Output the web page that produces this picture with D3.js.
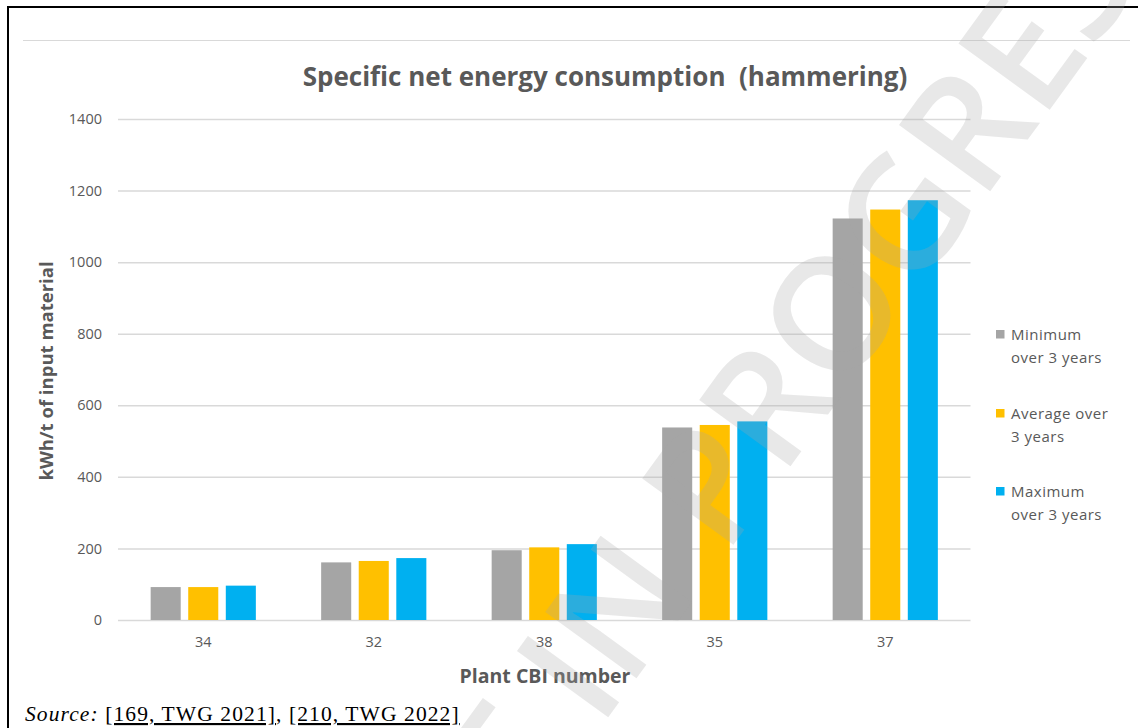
<!DOCTYPE html>
<html><head><meta charset="utf-8">
<script src="https://cdn.jsdelivr.net/npm/d3@7"></script>
<style>body{margin:0;background:#fff}svg{display:block}</style>
</head><body>
<svg id="c" width="1138" height="728"></svg>
<script>
const categories = ["34", "32", "38", "35", "37"];
const seriesNames = ["Minimum over 3 years", "Average over 3 years", "Maximum over 3 years"];
const legendLines = [["Minimum", "over 3 years"], ["Average over", "3 years"], ["Maximum", "over 3 years"]];
const minimumValues = [92, 161, 195, 538, 1122];
const averageValues = [92, 165, 203, 545, 1147];
const maximumValues = [96, 173, 212, 555, 1173];
const yTicks = [0, 200, 400, 600, 800, 1000, 1200, 1400];
const colors = ["#A5A5A5", "#FFC000", "#00B0F0"];
const titleText = "Specific net energy consumption  (hammering)";
const yTitle = "kWh/t of input material";
const xTitle = "Plant CBI number";
const watermark = "DRAFT IN PROGRESS";

const series = [minimumValues, averageValues, maximumValues];
const svg = d3.select("#c");
const font = "'Open Sans', sans-serif";

// frame
svg.append("line").attr("x1", 8).attr("x2", 1138).attr("y1", 7).attr("y2", 7).attr("stroke", "#000").attr("stroke-width", 2);
svg.append("line").attr("x1", 8).attr("x2", 8).attr("y1", 6).attr("y2", 728).attr("stroke", "#000").attr("stroke-width", 2);
svg.append("line").attr("x1", 23).attr("x2", 1130).attr("y1", 40.5).attr("y2", 40.5).attr("stroke", "#d9d9d9").attr("stroke-width", 1);

const pLeft = 118, pRight = 970.5, pTop = 119, pBottom = 620;
const y = d3.scaleLinear().domain([0, 1400]).range([pBottom, pTop]);
const x0 = d3.scaleBand().domain(categories).range([pLeft, pRight]).paddingInner(0.383).paddingOuter(0.1915);
const x1 = d3.scaleBand().domain(d3.range(3)).range([0, x0.bandwidth()]).paddingInner(0.2).paddingOuter(0);

// gridlines
const yAxis = d3.axisLeft(y).tickValues(yTicks).tickSize(-(pRight - pLeft)).tickPadding(16).tickFormat(d3.format("d"));
const gy = svg.append("g").attr("transform", `translate(${pLeft},0)`).call(yAxis);
gy.select(".domain").remove();
gy.selectAll(".tick line").attr("stroke", "#d9d9d9").attr("stroke-width", 1.5);
gy.selectAll(".tick text").attr("fill", "#595959").attr("font-family", font).attr("font-size", 14.5);

// bars
const groups = svg.append("g").selectAll("g").data(categories).join("g")
  .attr("transform", d => `translate(${x0(d)},0)`);
groups.selectAll("rect").data((d, i) => series.map((s, k) => ({k, v: s[i]}))).join("rect")
  .attr("x", d => x1(d.k)).attr("width", x1.bandwidth())
  .attr("y", d => y(d.v)).attr("height", d => y(0) - y(d.v))
  .attr("fill", d => colors[d.k]);

// x axis
const xAxis = d3.axisBottom(x0).tickSize(0).tickPadding(17);
const gx = svg.append("g").attr("transform", `translate(0,${pBottom})`).call(xAxis);
gx.select(".domain").remove();
gx.selectAll(".tick text").attr("fill", "#595959").attr("font-family", font).attr("font-size", 14.5);

// titles
svg.append("text").attr("x", 605).attr("y", 86).attr("text-anchor", "middle")
  .attr("font-family", font).attr("font-weight", "bold").attr("font-size", 26).attr("fill", "#595959")
  .attr("xml:space", "preserve").text(titleText);
svg.append("text").attr("transform", "translate(53,371) rotate(-90)").attr("text-anchor", "middle")
  .attr("font-family", font).attr("font-weight", "bold").attr("font-size", 18.5).attr("fill", "#595959").text(yTitle);
svg.append("text").attr("x", 545).attr("y", 683).attr("text-anchor", "middle")
  .attr("font-family", font).attr("font-weight", "bold").attr("font-size", 19.5).attr("fill", "#595959").text(xTitle);

// legend
const legendY = [340, 419, 497];
const lg = svg.append("g").selectAll("g").data(seriesNames).join("g")
  .attr("transform", (d, i) => `translate(996,${legendY[i]})`);
lg.append("rect").attr("x", 0).attr("y", -10).attr("width", 8.5).attr("height", 8.5).attr("fill", (d, i) => colors[i]);
lg.append("text").attr("x", 15).attr("y", 0).attr("font-family", font).attr("font-size", 15).attr("letter-spacing", 0.5).attr("fill", "#595959")
  .selectAll("tspan").data((d, i) => legendLines[i]).join("tspan")
  .attr("x", 15).attr("dy", (d, j) => j === 0 ? 0 : 23).text(d => d);

// watermark
svg.append("text").attr("transform", "translate(690,500) rotate(-54)").attr("text-anchor", "middle")
  .attr("dominant-baseline", "central")
  .attr("font-family", font).attr("font-weight", 600).attr("font-size", 158).attr("fill", "#a8a8a8").attr("fill-opacity", 0.26)
  .text(watermark);

// source
const src = svg.append("text").attr("x", 25).attr("y", 721).attr("font-family", "'Liberation Serif', 'Times New Roman', serif")
  .attr("font-size", 21.5).attr("letter-spacing", 1.1).attr("fill", "#000");
src.append("tspan").attr("font-style", "italic").text("Source:");
src.append("tspan").text(" ");
src.append("tspan").attr("text-decoration", "underline").text("[169, TWG 2021]");
src.append("tspan").text(", ");
src.append("tspan").attr("text-decoration", "underline").text("[210, TWG 2022]");
</script>
</body></html>
